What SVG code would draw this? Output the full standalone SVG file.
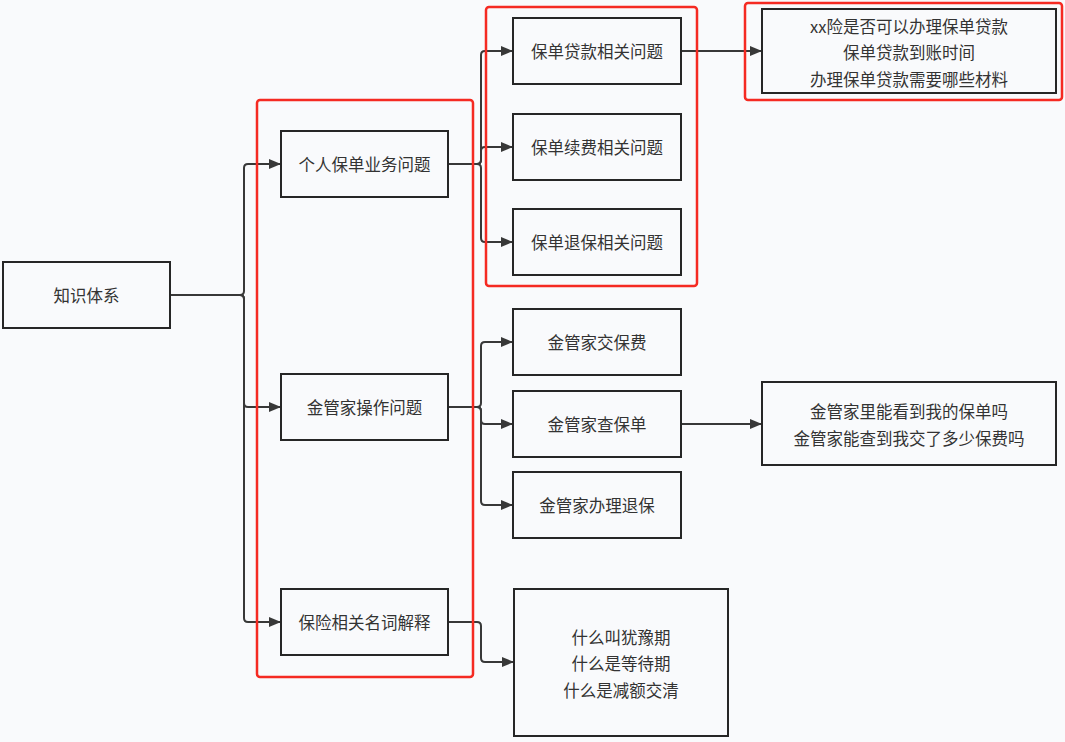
<svg xmlns="http://www.w3.org/2000/svg" width="1065" height="742" viewBox="0 0 1065 742">
<style>
.n{fill:#f9fafc;stroke:#262626;stroke-width:2}
.t{font-family:"Noto Sans CJK SC","Noto Sans",sans-serif;font-size:16.5px;fill:#333;text-anchor:middle;dominant-baseline:central}
.c{fill:none;stroke:#383838;stroke-width:2}
.r{fill:none;stroke:#f52a22;stroke-width:2.5}
</style>
<defs>
<marker id="a" markerUnits="userSpaceOnUse" markerWidth="12" markerHeight="12" refX="12" refY="6" orient="auto">
<path d="M0,1 L12,6 L0,11 z" fill="#383838"/>
</marker>
</defs>
<rect width="1065" height="742" fill="#f9fafc"/>
<g id="connectors">
<path class="c" marker-end="url(#a)" d="M170,295 H240 Q244,295 244,291 V168 Q244,164 248,164 H281"/>
<path class="c" marker-end="url(#a)" d="M170,295 H240 Q244,295 244,299 V403 Q244,407 248,407 H281"/>
<path class="c" marker-end="url(#a)" d="M170,295 H240 Q244,295 244,299 V618 Q244,622 248,622 H281"/>
<path class="c" marker-end="url(#a)" d="M448,164 H477 Q481,164 481,160 V55 Q481,51 485,51 H513"/>
<path class="c" marker-end="url(#a)" d="M448,164 H477 Q481,164 481,160 V151 Q481,147 485,147 H513"/>
<path class="c" marker-end="url(#a)" d="M448,164 H477 Q481,164 481,168 V238 Q481,242 485,242 H513"/>
<path class="c" marker-end="url(#a)" d="M448,407 H477 Q481,407 481,403 V346 Q481,342 485,342 H513"/>
<path class="c" marker-end="url(#a)" d="M448,407 H477 Q481,407 481,411 V420 Q481,424 485,424 H513"/>
<path class="c" marker-end="url(#a)" d="M448,407 H477 Q481,407 481,411 V501 Q481,505 485,505 H513"/>
<path class="c" marker-end="url(#a)" d="M448,622 H477 Q481,622 481,626 V658 Q481,662 485,662 H514"/>
<path class="c" marker-end="url(#a)" d="M681,51 H762"/>
<path class="c" marker-end="url(#a)" d="M681,424 H762"/>
</g>
<g id="n-root"><rect class="n" x="3" y="262" width="167" height="66"/><text class="t" x="86.5" y="295">知识体系</text></g>
<g id="n-personal"><rect class="n" x="281" y="131" width="167" height="66"/><text class="t" x="364.5" y="164">个人保单业务问题</text></g>
<g id="n-jgj"><rect class="n" x="281" y="374" width="167" height="66"/><text class="t" x="364.5" y="407">金管家操作问题</text></g>
<g id="n-terms"><rect class="n" x="281" y="589" width="167" height="66"/><text class="t" x="364.5" y="622">保险相关名词解释</text></g>
<g id="n-loan"><rect class="n" x="513" y="18" width="168" height="66"/><text class="t" x="597" y="51">保单贷款相关问题</text></g>
<g id="n-renew"><rect class="n" x="513" y="114" width="168" height="66"/><text class="t" x="597" y="147">保单续费相关问题</text></g>
<g id="n-surrender"><rect class="n" x="513" y="209" width="168" height="66"/><text class="t" x="597" y="242">保单退保相关问题</text></g>
<g id="n-pay"><rect class="n" x="513" y="309" width="168" height="66"/><text class="t" x="597" y="342">金管家交保费</text></g>
<g id="n-query"><rect class="n" x="513" y="391" width="168" height="66"/><text class="t" x="597" y="424">金管家查保单</text></g>
<g id="n-jsurrender"><rect class="n" x="513" y="472" width="168" height="66"/><text class="t" x="597" y="505">金管家办理退保</text></g>
<g id="n-loanq"><rect class="n" x="762" y="9" width="294" height="84"/>
<text class="t" x="909" y="26">xx险是否可以办理保单贷款</text>
<text class="t" x="909" y="52">保单贷款到账时间</text>
<text class="t" x="909" y="79">办理保单贷款需要哪些材料</text></g>
<g id="n-queryq"><rect class="n" x="762" y="382" width="294" height="83"/>
<text class="t" x="909" y="411">金管家里能看到我的保单吗</text>
<text class="t" x="909" y="438">金管家能查到我交了多少保费吗</text></g>
<g id="n-termsq"><rect class="n" x="514" y="589" width="214" height="147"/>
<text class="t" x="621" y="637">什么叫犹豫期</text>
<text class="t" x="621" y="663">什么是等待期</text>
<text class="t" x="621" y="690">什么是减额交清</text></g>
<g id="highlights">
<rect class="r" x="257" y="100" width="216" height="577" rx="3"/>
<rect class="r" x="486" y="7" width="211" height="279" rx="3"/>
<rect class="r" x="745" y="3" width="317" height="97" rx="3"/>
</g>
</svg>
